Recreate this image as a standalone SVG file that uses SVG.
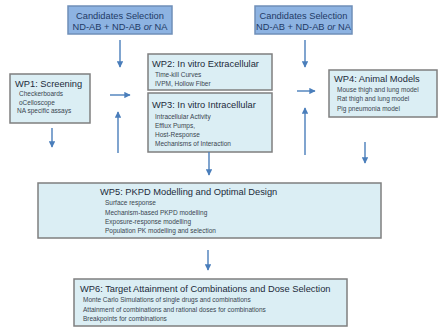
<svg xmlns="http://www.w3.org/2000/svg" width="446" height="327" viewBox="0 0 446 327">
<defs>
<marker id="ah" viewBox="0 0 10 10" refX="9" refY="5" markerWidth="4.5" markerHeight="4.5" orient="auto" markerUnits="strokeWidth">
<path d="M0,0 L10,5 L0,10 z" fill="#4a7ebb"/>
</marker>
<style>
.cand{fill:#8db3e2;stroke:#6f8fb8;stroke-width:1.5}
.wp{fill:#dbeef4;stroke:#7f7f7f;stroke-width:1.5}
.ct{font-family:"Liberation Sans",Arial,sans-serif;font-size:9.3px;fill:#1f3a66;text-anchor:middle}
.t{font-family:"Liberation Sans",Arial,sans-serif;font-size:9.3px;fill:#1c2a3a}
.i{font-family:"Liberation Sans",Arial,sans-serif;font-size:6.5px;fill:#3a4550}
.c{stroke:#4a7ebb;stroke-width:1.4;fill:none;marker-end:url(#ah)}
</style>
</defs>
<rect width="446" height="327" fill="#ffffff"/>
<g id="cand-left">
<rect class="cand" x="68" y="6" width="104" height="28"/>
<text class="ct" x="120" y="19">Candidates Selection</text>
<text class="ct" x="120" y="30">ND-AB + ND-AB <tspan font-style="italic">or</tspan> NA</text>
</g>
<g id="cand-right">
<rect class="cand" x="255" y="6" width="97" height="28"/>
<text class="ct" x="303.5" y="19">Candidates Selection</text>
<text class="ct" x="303.5" y="30">ND-AB + ND-AB <tspan font-style="italic">or</tspan> NA</text>
</g>
<g id="wp1">
<rect class="wp" x="10" y="74" width="80" height="49"/>
<text class="t" x="15" y="87">WP1: Screening</text>
<text class="i" x="19" y="96">Checkerboards</text>
<text class="i" x="19" y="104.5">oCelloscope</text>
<text class="i" x="17" y="113">NA specific assays</text>
</g>
<g id="wp2">
<rect class="wp" x="148" y="54" width="124" height="36"/>
<text class="t" x="152" y="67">WP2: In vitro Extracellular</text>
<text class="i" x="155" y="76.5">Time-kill Curves</text>
<text class="i" x="155" y="86">IVPM, Hollow Fiber</text>
</g>
<g id="wp3">
<rect class="wp" x="148" y="93" width="124" height="59"/>
<text class="t" x="152" y="108">WP3: In vitro Intracellular</text>
<text class="i" x="155" y="119">Intracellular Activity</text>
<text class="i" x="155" y="128">Efflux Pumps,</text>
<text class="i" x="155" y="137">Host-Response</text>
<text class="i" x="155" y="146">Mechanisms of Interaction</text>
</g>
<g id="wp4">
<rect class="wp" x="329" y="70" width="108" height="47"/>
<text class="t" x="334" y="82">WP4: Animal Models</text>
<text class="i" x="337" y="92">Mouse thigh and lung model</text>
<text class="i" x="337" y="101">Rat thigh and lung model</text>
<text class="i" x="337" y="110.5">Pig pneumonia model</text>
</g>
<g id="wp5">
<rect class="wp" x="38" y="183" width="343" height="55"/>
<text class="t" x="100" y="195">WP5: PKPD Modelling and Optimal Design</text>
<text class="i" x="105" y="205">Surface response</text>
<text class="i" x="105" y="214.5">Mechanism-based PKPD modelling</text>
<text class="i" x="105" y="224">Exposure-response modelling</text>
<text class="i" x="105" y="233">Population PK modelling and selection</text>
</g>
<g id="wp6">
<rect class="wp" x="74" y="279" width="273" height="47"/>
<text class="t" x="80" y="292">WP6: Target Attainment of Combinations and Dose Selection</text>
<text class="i" x="83" y="302">Monte Carlo Simulations of single drugs and combinations</text>
<text class="i" x="83" y="311.5">Attainment of combinations and rational doses for combinations</text>
<text class="i" x="83" y="321">Breakpoints for combinations</text>
</g>
<g id="connectors">
<line class="c" x1="120" y1="40" x2="120" y2="67"/>
<line class="c" x1="305" y1="40" x2="305" y2="67"/>
<line class="c" x1="110" y1="95" x2="130" y2="95"/>
<line class="c" x1="118" y1="153" x2="118" y2="112"/>
<line class="c" x1="52" y1="128" x2="52" y2="147"/>
<line class="c" x1="209" y1="152" x2="209" y2="175"/>
<line class="c" x1="297" y1="91" x2="315" y2="91"/>
<line class="c" x1="305" y1="155" x2="305" y2="108"/>
<line class="c" x1="365" y1="142" x2="365" y2="163"/>
<line class="c" x1="208" y1="250" x2="208" y2="270"/>
</g>
</svg>
